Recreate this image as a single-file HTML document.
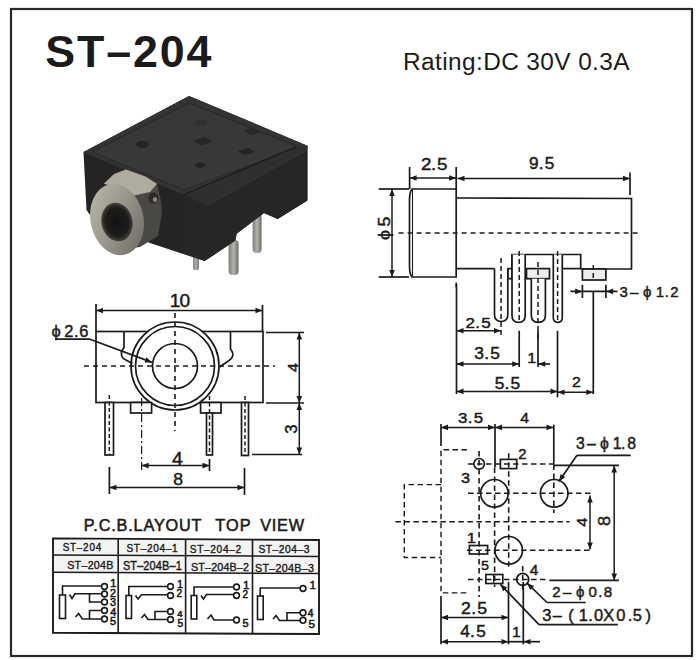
<!DOCTYPE html>
<html><head><meta charset="utf-8"><style>
html,body{margin:0;padding:0;background:#fff;}
svg{display:block;font-family:"Liberation Sans",sans-serif;}
</style></head><body>
<svg width="700" height="660" viewBox="0 0 700 660">
<rect x="11" y="9" width="681" height="647" fill="none" stroke="#2a2727" stroke-width="2.2"/>
<text transform="translate(45.31,66.80) scale(1.0,1)" font-size="44.77" font-weight="bold" letter-spacing="1.85" fill="#1c1a1a">ST–204</text>
<text transform="translate(403.10,70.20) scale(1.0,1)" font-size="24.42" font-weight="normal" letter-spacing="0.39" fill="#1c1a1a">Rating:DC 30V 0.3A</text>

<defs>
<linearGradient id="gRing" x1="0" y1="0" x2="1" y2="1">
<stop offset="0" stop-color="#bdbbad"/><stop offset="0.5" stop-color="#98958a"/><stop offset="1" stop-color="#68665d"/>
</linearGradient>
<linearGradient id="gCyl" x1="0" y1="0" x2="1" y2="1">
<stop offset="0" stop-color="#c9c6ba"/><stop offset="0.5" stop-color="#9a978c"/><stop offset="1" stop-color="#4a4844"/>
</linearGradient>
<linearGradient id="gPin" x1="0" y1="0" x2="1" y2="0">
<stop offset="0" stop-color="#7c7c76"/><stop offset="0.5" stop-color="#b4b4ae"/><stop offset="1" stop-color="#6c6c66"/>
</linearGradient>
<radialGradient id="gHole" cx="0.5" cy="0.5" r="0.5">
<stop offset="0" stop-color="#141211"/><stop offset="0.75" stop-color="#1f1d1b"/><stop offset="1" stop-color="#45433e"/>
</radialGradient>
</defs>
<g>
<rect x="193.1" y="252" width="5.8" height="18.3" rx="2.5" fill="url(#gPin)"/>
<rect x="228.6" y="240" width="10" height="35" rx="4" fill="url(#gPin)"/>
<rect x="252.6" y="212" width="9" height="41" rx="4" fill="url(#gPin)"/>
<polygon points="83.5,152 189,96 307.4,145.7 307.4,200.6 277.7,218.9 264,213.1 236.6,233.7 235.4,240.6 204.6,261.1 150,243 95,222 86.5,210" fill="#252323"/>
<polygon points="83.5,152 189,96 307.4,145.7 184,195" fill="#353333"/>
<polygon points="92,152 189,103 299,147 184,190" fill="#393737"/>
<polyline points="92,152 189,103 299,147 184,190 92,152" fill="none" stroke="#2c2a2a" stroke-width="1.3"/>
<polygon points="184,195 307.4,145.7 307.4,200.6 277.7,218.9 264,213.1 236.6,233.7 235.4,240.6 204.6,261.1 183,253" fill="#272525"/>
<polygon points="184,194 296,146.5 307.4,145.7 307.4,150 208,205 195,200" fill="#302e2e"/>
<polyline points="184,194.5 296,147" fill="none" stroke="#1c1a1a" stroke-width="1.3"/>
<polyline points="207,205.5 307,150" fill="none" stroke="#3a3838" stroke-width="0.8"/>
<ellipse cx="142.4" cy="144.5" rx="6.5" ry="3.5" fill="#242222"/>
<ellipse cx="201" cy="122.5" rx="6" ry="3.2" fill="#302e2e"/>
<polygon points="193,141 204,137 213,141.5 202,145.5" fill="#262424"/>
<polygon points="238,151 248,148 255,152 245,155" fill="#242222"/>
<polygon points="193.5,165 201,162 207,165.5 199.5,168.5" fill="#242222"/>
<polygon points="243,131 252,128 261,132 252,135" fill="#2a2828"/>
<polygon points="118,192 157,183.7 161,201 162,213 158,236 140,247 120,250" fill="#4a4845"/>
<polygon points="103.7,183.7 114,174 126,169.4 145.4,176.5 157,183.7 150,192 132,196 126.7,190.2" fill="#aeac9f"/>
<ellipse cx="153.5" cy="198" rx="5" ry="5.5" fill="#2c2a28"/>
<ellipse cx="155" cy="199.5" rx="2.2" ry="2.6" fill="#8a877c"/>
<ellipse cx="117" cy="219.5" rx="26.5" ry="36" transform="rotate(-12 117 219.5)" fill="url(#gRing)"/>
<ellipse cx="117" cy="222" rx="15.5" ry="19.5" transform="rotate(-12 117 222)" fill="url(#gHole)"/>
</g>
<rect x="96" y="331.5" width="167" height="71.0" fill="none" stroke="#1c1a1a" stroke-width="1.7"/>
<circle cx="175" cy="366" r="44" fill="#fff" stroke="#1c1a1a" stroke-width="1.7"/>
<circle cx="175" cy="366" r="39.5" fill="none" stroke="#1c1a1a" stroke-width="1.7"/>
<circle cx="175" cy="366" r="22.5" fill="none" stroke="#1c1a1a" stroke-width="1.7"/>
<path d="M124,331 L124,347.5 L121.5,351.5 L121.5,355 Q122,358.5 126,360 L132.5,363.5" fill="none" stroke="#1c1a1a" stroke-width="1.7"/>
<path d="M230.5,332 L230.5,349 Q233.5,353 232.7,356 Q232,358.5 229,360.5 L219.5,367" fill="none" stroke="#1c1a1a" stroke-width="1.7"/>
<line x1="84" y1="366" x2="275" y2="366" stroke="#1c1a1a" stroke-width="1.6" stroke-dasharray="5 4"/>
<line x1="175" y1="313" x2="175" y2="431" stroke="#1c1a1a" stroke-width="1.6" stroke-dasharray="5 4"/>
<rect x="105" y="402.5" width="8.5" height="52.5" fill="#fff" stroke="#1c1a1a" stroke-width="1.7"/>
<line x1="109.3" y1="395" x2="109.3" y2="455" stroke="#1c1a1a" stroke-width="1.5" stroke-dasharray="4 2.5"/>
<rect x="130.6" y="402.5" width="21.0" height="10.5" fill="#fff" stroke="#1c1a1a" stroke-width="1.7"/>
<rect x="200.6" y="402.5" width="20.400000000000006" height="10.5" fill="#fff" stroke="#1c1a1a" stroke-width="1.7"/>
<rect x="206.5" y="413" width="6.0" height="42" fill="#fff" stroke="#1c1a1a" stroke-width="1.7"/>
<line x1="209.5" y1="396" x2="209.5" y2="455" stroke="#1c1a1a" stroke-width="1.5" stroke-dasharray="4 2.5"/>
<rect x="241.5" y="402.5" width="7.0" height="53.0" fill="#fff" stroke="#1c1a1a" stroke-width="1.7"/>
<line x1="245" y1="396" x2="245" y2="455" stroke="#1c1a1a" stroke-width="1.5" stroke-dasharray="4 2.5"/>
<line x1="141.6" y1="398" x2="141.6" y2="472" stroke="#1c1a1a" stroke-width="1.2" stroke-dasharray="8 3 2 3"/>
<line x1="96" y1="304" x2="96" y2="331" stroke="#1c1a1a" stroke-width="1.7"/>
<line x1="262.5" y1="305" x2="262.5" y2="331" stroke="#1c1a1a" stroke-width="1.7"/>
<line x1="96" y1="310.5" x2="262.5" y2="310.5" stroke="#1c1a1a" stroke-width="1.5"/>
<polygon points="96.0,310.5 103.0,307.7 103.0,313.3" fill="#1c1a1a"/>
<polygon points="262.5,310.5 255.5,313.3 255.5,307.7" fill="#1c1a1a"/>
<text transform="translate(171.10,0) scale(1.08,1)" x="-1.35 7.83" y="307.10" font-size="17.73" font-weight="normal" fill="#1c1a1a" stroke="#1c1a1a" stroke-width="0.45">10</text>
<text transform="translate(52.10,0) scale(1.0,1)" x="-0.64 12.07 21.80 27.06" y="336.60" font-size="16.47" font-weight="normal" fill="#1c1a1a" stroke="#1c1a1a" stroke-width="0.45">ϕ2.6</text>
<line x1="55" y1="339.2" x2="90" y2="339.2" stroke="#1c1a1a" stroke-width="1.7"/>
<line x1="90" y1="339.2" x2="152" y2="362.4" stroke="#1c1a1a" stroke-width="1.7"/>
<polygon points="152.0,362.4 144.5,362.6 146.4,357.3" fill="#1c1a1a"/>
<line x1="266" y1="332.5" x2="304" y2="332.5" stroke="#1c1a1a" stroke-width="1.7"/>
<line x1="266" y1="403" x2="304" y2="403" stroke="#1c1a1a" stroke-width="1.7"/>
<line x1="252" y1="454.5" x2="302" y2="454.5" stroke="#1c1a1a" stroke-width="1.7"/>
<line x1="299.3" y1="332.5" x2="299.3" y2="403" stroke="#1c1a1a" stroke-width="1.5"/>
<polygon points="299.3,332.5 302.1,339.5 296.5,339.5" fill="#1c1a1a"/>
<polygon points="299.3,403.0 296.5,396.0 302.1,396.0" fill="#1c1a1a"/>
<line x1="299.3" y1="403" x2="299.3" y2="454.5" stroke="#1c1a1a" stroke-width="1.5"/>
<polygon points="299.3,403.0 302.1,410.0 296.5,410.0" fill="#1c1a1a"/>
<polygon points="299.3,454.5 296.5,447.5 302.1,447.5" fill="#1c1a1a"/>
<text transform="translate(297.50,372.19) rotate(-90) scale(1.08,1)" font-size="15.55" font-weight="normal" letter-spacing="0.00" fill="#1c1a1a" stroke="#1c1a1a" stroke-width="0.45">4</text>
<text transform="translate(297.00,433.84) rotate(-90) scale(1.08,1)" font-size="15.61" font-weight="normal" letter-spacing="0.00" fill="#1c1a1a" stroke="#1c1a1a" stroke-width="0.45">3</text>
<line x1="209.5" y1="459" x2="209.5" y2="471" stroke="#1c1a1a" stroke-width="1.7"/>
<line x1="141.6" y1="465.6" x2="209.5" y2="465.6" stroke="#1c1a1a" stroke-width="1.5"/>
<polygon points="141.6,465.6 148.6,462.8 148.6,468.4" fill="#1c1a1a"/>
<polygon points="209.5,465.6 202.5,468.4 202.5,462.8" fill="#1c1a1a"/>
<text transform="translate(172.05,465.00) scale(1.08,1)" font-size="18.02" font-weight="normal" letter-spacing="0.00" fill="#1c1a1a" stroke="#1c1a1a" stroke-width="0.45">4</text>
<line x1="109.4" y1="467" x2="109.4" y2="494" stroke="#1c1a1a" stroke-width="1.7"/>
<line x1="244.5" y1="468" x2="244.5" y2="495" stroke="#1c1a1a" stroke-width="1.7"/>
<line x1="109.4" y1="487.5" x2="244.5" y2="487.5" stroke="#1c1a1a" stroke-width="1.5"/>
<polygon points="109.4,487.5 116.4,484.7 116.4,490.3" fill="#1c1a1a"/>
<polygon points="244.5,487.5 237.5,490.3 237.5,484.7" fill="#1c1a1a"/>
<text transform="translate(173.23,485.20) scale(1.08,1)" font-size="16.33" font-weight="normal" letter-spacing="0.00" fill="#1c1a1a" stroke="#1c1a1a" stroke-width="0.45">8</text>
<path d="M456.2,189 L412,189 Q409.5,192 409.5,200 L409.5,266 Q409.5,274 412,277 L456.2,277 Z" fill="none" stroke="#1c1a1a" stroke-width="1.7"/>
<line x1="412.5" y1="190" x2="412.5" y2="276" stroke="#1c1a1a" stroke-width="1.1"/>
<path d="M456.2,198 L631.5,198.5 L631.5,269 L580.7,269" fill="none" stroke="#1c1a1a" stroke-width="1.7"/>
<path d="M456.2,268.6 L494.5,268.6" fill="none" stroke="#1c1a1a" stroke-width="1.7"/>
<path d="M512,268.6 L512,254.5 L580.7,254.5 L580.7,269" fill="none" stroke="#1c1a1a" stroke-width="1.7"/>
<line x1="562.3" y1="268.6" x2="580.7" y2="268.6" stroke="#1c1a1a" stroke-width="1.7"/>
<rect x="507.8" y="268.6" width="4.199999999999989" height="10.099999999999966" fill="none" stroke="#1c1a1a" stroke-width="1.7"/>
<rect x="526.5" y="268.6" width="23.0" height="10.099999999999966" fill="#ededed" stroke="#1c1a1a" stroke-width="1.7"/>
<rect x="582.4" y="269" width="23.5" height="11" fill="#ededed" stroke="#1c1a1a" stroke-width="1.7"/>
<path d="M494.5,268.6 L494.5,314.85 Q494.5,321.5 501.15,321.5 Q507.8,321.5 507.8,314.85 L507.8,268.6" fill="#fff" stroke="#1c1a1a" stroke-width="1.7"/>
<path d="M512,254.5 L512,315.7 Q512,322.3 518.6,322.3 Q525.2,322.3 525.2,315.7 L525.2,254.5" fill="#fff" stroke="#1c1a1a" stroke-width="1.7"/>
<path d="M531.3,278.7 L531.3,315.25 Q531.3,322.3 538.3499999999999,322.3 Q545.4,322.3 545.4,315.25 L545.4,278.7" fill="#fff" stroke="#1c1a1a" stroke-width="1.7"/>
<path d="M553.3,254.5 L553.3,317.8 Q553.3,322.3 557.8,322.3 Q562.3,322.3 562.3,317.8 L562.3,254.5" fill="#fff" stroke="#1c1a1a" stroke-width="1.7"/>
<line x1="501" y1="258" x2="501" y2="336" stroke="#1c1a1a" stroke-width="1.5" stroke-dasharray="5 3"/>
<line x1="519.2" y1="251" x2="519.2" y2="322" stroke="#1c1a1a" stroke-width="1.5" stroke-dasharray="5 3"/>
<line x1="538" y1="262" x2="538" y2="340" stroke="#1c1a1a" stroke-width="1.5" stroke-dasharray="5 3"/>
<line x1="557.6" y1="251" x2="557.6" y2="322" stroke="#1c1a1a" stroke-width="1.5" stroke-dasharray="5 3"/>
<line x1="593.3" y1="265" x2="593.3" y2="281" stroke="#1c1a1a" stroke-width="1.5" stroke-dasharray="5 3"/>
<line x1="398.6" y1="233" x2="638.5" y2="233" stroke="#1c1a1a" stroke-width="1.6" stroke-dasharray="5 4"/>
<line x1="409.6" y1="167" x2="409.6" y2="189" stroke="#1c1a1a" stroke-width="1.7"/>
<line x1="456.2" y1="167" x2="456.2" y2="190" stroke="#1c1a1a" stroke-width="1.7"/>
<line x1="409.6" y1="178" x2="456.2" y2="178" stroke="#1c1a1a" stroke-width="1.5"/>
<polygon points="409.6,178.0 416.6,175.2 416.6,180.8" fill="#1c1a1a"/>
<polygon points="456.2,178.0 449.2,180.8 449.2,175.2" fill="#1c1a1a"/>
<text transform="translate(421.90,0) scale(1.1,1)" x="-0.86 8.17 13.67" y="169.80" font-size="17.04" font-weight="normal" fill="#1c1a1a" stroke="#1c1a1a" stroke-width="0.45">2.5</text>
<line x1="630" y1="172.5" x2="630" y2="195" stroke="#1c1a1a" stroke-width="1.7"/>
<line x1="457.5" y1="178.5" x2="630" y2="178.5" stroke="#1c1a1a" stroke-width="1.5"/>
<polygon points="457.5,178.5 464.5,175.7 464.5,181.3" fill="#1c1a1a"/>
<polygon points="630.0,178.5 623.0,181.3 623.0,175.7" fill="#1c1a1a"/>
<text transform="translate(529.70,0) scale(1.1,1)" x="-0.73 8.35 13.79" y="169.20" font-size="15.61" font-weight="normal" fill="#1c1a1a" stroke="#1c1a1a" stroke-width="0.45">9.5</text>
<line x1="378.8" y1="189" x2="409" y2="189" stroke="#1c1a1a" stroke-width="1.7"/>
<line x1="378.8" y1="277" x2="409" y2="277" stroke="#1c1a1a" stroke-width="1.7"/>
<line x1="392" y1="189" x2="392" y2="277" stroke="#1c1a1a" stroke-width="1.5"/>
<polygon points="392.0,189.0 394.8,196.0 389.2,196.0" fill="#1c1a1a"/>
<polygon points="392.0,277.0 389.2,270.0 394.8,270.0" fill="#1c1a1a"/>
<text transform="translate(389.70,240.10) rotate(-90) scale(1.08,1)" font-size="16.57" font-weight="normal" letter-spacing="3.22" fill="#1c1a1a" stroke="#1c1a1a" stroke-width="0.45">ϕ5</text>
<line x1="456.2" y1="282.4" x2="456.2" y2="290" stroke="#1c1a1a" stroke-width="1.5" stroke-dasharray="5 3"/>
<line x1="456.5" y1="284" x2="456.5" y2="394" stroke="#1c1a1a" stroke-width="1.7"/>
<line x1="456.5" y1="330.8" x2="501" y2="330.8" stroke="#1c1a1a" stroke-width="1.5"/>
<polygon points="456.5,330.8 463.5,328.0 463.5,333.6" fill="#1c1a1a"/>
<polygon points="501.0,330.8 494.0,333.6 494.0,328.0" fill="#1c1a1a"/>
<text transform="translate(466.30,0) scale(1.1,1)" x="-0.78 8.20 13.56" y="328.30" font-size="15.47" font-weight="normal" fill="#1c1a1a" stroke="#1c1a1a" stroke-width="0.45">2.5</text>
<line x1="519.2" y1="330.8" x2="519.2" y2="367" stroke="#1c1a1a" stroke-width="1.7"/>
<line x1="456.5" y1="364" x2="519.2" y2="364" stroke="#1c1a1a" stroke-width="1.5"/>
<polygon points="456.5,364.0 463.5,361.2 463.5,366.8" fill="#1c1a1a"/>
<polygon points="519.2,364.0 512.2,366.8 512.2,361.2" fill="#1c1a1a"/>
<text transform="translate(475.00,0) scale(1.1,1)" x="-0.60 8.45 13.96" y="358.80" font-size="15.75" font-weight="normal" fill="#1c1a1a" stroke="#1c1a1a" stroke-width="0.45">3.5</text>
<line x1="538" y1="330.8" x2="538" y2="367" stroke="#1c1a1a" stroke-width="1.7"/>
<line x1="538" y1="364" x2="550" y2="364" stroke="#1c1a1a" stroke-width="1.7"/>
<polygon points="538.3,364.0 545.3,361.2 545.3,366.8" fill="#1c1a1a"/>
<text transform="translate(527.17,363.40) scale(1.08,1)" font-size="14.97" font-weight="normal" letter-spacing="0.00" fill="#1c1a1a" stroke="#1c1a1a" stroke-width="0.45">1</text>
<line x1="557.5" y1="330.8" x2="557.5" y2="397.4" stroke="#1c1a1a" stroke-width="1.7"/>
<line x1="456.5" y1="391.4" x2="557.5" y2="391.4" stroke="#1c1a1a" stroke-width="1.5"/>
<polygon points="456.5,391.4 463.5,388.6 463.5,394.2" fill="#1c1a1a"/>
<polygon points="557.5,391.4 550.5,394.2 550.5,388.6" fill="#1c1a1a"/>
<text transform="translate(495.50,0) scale(1.1,1)" x="-0.63 8.24 13.66" y="388.70" font-size="15.84" font-weight="normal" fill="#1c1a1a" stroke="#1c1a1a" stroke-width="0.45">5.5</text>
<line x1="557.5" y1="392.2" x2="593.3" y2="392.2" stroke="#1c1a1a" stroke-width="1.5"/>
<polygon points="557.5,392.2 564.5,389.4 564.5,395.0" fill="#1c1a1a"/>
<polygon points="593.3,392.2 586.3,395.0 586.3,389.4" fill="#1c1a1a"/>
<text transform="translate(571.90,387.30) scale(1.08,1)" font-size="14.75" font-weight="normal" letter-spacing="0.00" fill="#1c1a1a" stroke="#1c1a1a" stroke-width="0.45">2</text>
<line x1="593.3" y1="291.4" x2="593.3" y2="394" stroke="#1c1a1a" stroke-width="1.7"/>
<line x1="582.4" y1="284.8" x2="582.4" y2="298" stroke="#1c1a1a" stroke-width="1.7"/>
<line x1="605.9" y1="284.8" x2="605.9" y2="298" stroke="#1c1a1a" stroke-width="1.7"/>
<line x1="570.3" y1="291.4" x2="617.5" y2="291.4" stroke="#1c1a1a" stroke-width="1.7"/>
<polygon points="582.2,291.4 575.2,294.2 575.2,288.6" fill="#1c1a1a"/>
<polygon points="606.1,291.4 613.1,288.6 613.1,294.2" fill="#1c1a1a"/>
<text transform="translate(620.00,0) scale(1.0,1)" x="-0.57 10.00 22.91 35.85 44.63 50.24" y="297.00" font-size="15.04" font-weight="normal" fill="#1c1a1a" stroke="#1c1a1a" stroke-width="0.45">3–ϕ1.2</text>
<line x1="441" y1="424" x2="441" y2="446" stroke="#1c1a1a" stroke-width="1.7"/>
<line x1="495" y1="424" x2="495" y2="467.5" stroke="#1c1a1a" stroke-width="1.7"/>
<line x1="441" y1="427.4" x2="495" y2="427.4" stroke="#1c1a1a" stroke-width="1.5"/>
<polygon points="441.0,427.4 448.0,424.6 448.0,430.2" fill="#1c1a1a"/>
<polygon points="495.0,427.4 488.0,430.2 488.0,424.6" fill="#1c1a1a"/>
<text transform="translate(458.60,0) scale(1.1,1)" x="-0.58 8.33 13.74" y="423.30" font-size="15.32" font-weight="normal" fill="#1c1a1a" stroke="#1c1a1a" stroke-width="0.45">3.5</text>
<line x1="553.8" y1="424.6" x2="553.8" y2="464.5" stroke="#1c1a1a" stroke-width="1.7"/>
<line x1="495" y1="427.4" x2="553.5" y2="427.4" stroke="#1c1a1a" stroke-width="1.5"/>
<polygon points="495.0,427.4 502.0,424.6 502.0,430.2" fill="#1c1a1a"/>
<polygon points="553.5,427.4 546.5,430.2 546.5,424.6" fill="#1c1a1a"/>
<text transform="translate(520.34,423.00) scale(1.08,1)" font-size="14.54" font-weight="normal" letter-spacing="0.00" fill="#1c1a1a" stroke="#1c1a1a" stroke-width="0.45">4</text>
<path d="M467,449.7 L441,449.7 L441,592.9 L468,592.9" fill="none" stroke="#1c1a1a" stroke-width="1.4" stroke-dasharray="5.5 3.5"/>
<path d="M441,484.6 L404.3,484.6 L404.3,557.5 L441,557.5" fill="none" stroke="#1c1a1a" stroke-width="1.4" stroke-dasharray="5.5 3.5"/>
<line x1="468" y1="464" x2="553.5" y2="464" stroke="#1c1a1a" stroke-width="1.6" stroke-dasharray="5.5 3.5"/>
<line x1="553.5" y1="465.4" x2="619" y2="465.4" stroke="#1c1a1a" stroke-width="1.7"/>
<line x1="468" y1="493.3" x2="592" y2="493.3" stroke="#1c1a1a" stroke-width="1.6" stroke-dasharray="5.5 3.5"/>
<line x1="395.4" y1="521.7" x2="569.6" y2="521.7" stroke="#1c1a1a" stroke-width="1.6" stroke-dasharray="5.5 3.5"/>
<line x1="467" y1="550.3" x2="591" y2="550.3" stroke="#1c1a1a" stroke-width="1.6" stroke-dasharray="5.5 3.5"/>
<line x1="468" y1="579.5" x2="548" y2="579.5" stroke="#1c1a1a" stroke-width="1.6" stroke-dasharray="5.5 3.5"/>
<line x1="549.3" y1="580.4" x2="619" y2="580.4" stroke="#1c1a1a" stroke-width="1.7"/>
<line x1="479.1" y1="451" x2="479.1" y2="597" stroke="#1c1a1a" stroke-width="1.6" stroke-dasharray="5.5 3.5"/>
<line x1="494.6" y1="467.5" x2="494.6" y2="587" stroke="#1c1a1a" stroke-width="1.6" stroke-dasharray="5.5 3.5"/>
<line x1="508.7" y1="453.3" x2="508.7" y2="570" stroke="#1c1a1a" stroke-width="1.6" stroke-dasharray="5.5 3.5"/>
<line x1="553.8" y1="464.5" x2="553.8" y2="513" stroke="#1c1a1a" stroke-width="1.6" stroke-dasharray="5.5 3.5"/>
<line x1="522.7" y1="566" x2="522.7" y2="590" stroke="#1c1a1a" stroke-width="1.6" stroke-dasharray="5.5 3.5"/>
<circle cx="479.1" cy="463.8" r="5.3" fill="none" stroke="#1c1a1a" stroke-width="1.7"/>
<rect x="500.4" y="459.4" width="16.300000000000068" height="9.200000000000045" fill="none" stroke="#1c1a1a" stroke-width="1.7"/>
<circle cx="494.4" cy="493.3" r="13.8" fill="none" stroke="#1c1a1a" stroke-width="1.7"/>
<circle cx="554.2" cy="493.3" r="13.8" fill="none" stroke="#1c1a1a" stroke-width="1.7"/>
<circle cx="508.7" cy="550.3" r="13.8" fill="none" stroke="#1c1a1a" stroke-width="1.7"/>
<rect x="469.4" y="545.5" width="18.200000000000045" height="8.5" fill="none" stroke="#1c1a1a" stroke-width="1.7"/>
<rect x="485.9" y="574.5" width="16.900000000000034" height="9.0" fill="none" stroke="#1c1a1a" stroke-width="1.7"/>
<line x1="493.6" y1="574.5" x2="493.6" y2="583.5" stroke="#1c1a1a" stroke-width="1.1"/>
<circle cx="522.7" cy="579.4" r="6" fill="none" stroke="#1c1a1a" stroke-width="1.7"/>
<text transform="translate(518.25,459.00) scale(1.08,1)" font-size="13.89" font-weight="normal" letter-spacing="0.00" fill="#1c1a1a" stroke="#1c1a1a" stroke-width="0.45">2</text>
<text transform="translate(460.98,483.20) scale(1.08,1)" font-size="15.04" font-weight="normal" letter-spacing="0.00" fill="#1c1a1a" stroke="#1c1a1a" stroke-width="0.45">3</text>
<text transform="translate(466.72,542.70) scale(1.08,1)" font-size="15.55" font-weight="normal" letter-spacing="0.00" fill="#1c1a1a" stroke="#1c1a1a" stroke-width="0.45">1</text>
<text transform="translate(480.93,570.30) scale(1.08,1)" font-size="13.23" font-weight="normal" letter-spacing="0.00" fill="#1c1a1a" stroke="#1c1a1a" stroke-width="0.45">5</text>
<text transform="translate(529.65,574.60) scale(1.08,1)" font-size="14.24" font-weight="normal" letter-spacing="0.00" fill="#1c1a1a" stroke="#1c1a1a" stroke-width="0.45">4</text>
<line x1="590" y1="495.4" x2="590" y2="549.6" stroke="#1c1a1a" stroke-width="1.5"/>
<polygon points="590.0,495.4 592.8,502.4 587.2,502.4" fill="#1c1a1a"/>
<polygon points="590.0,549.6 587.2,542.6 592.8,542.6" fill="#1c1a1a"/>
<line x1="614.2" y1="465.4" x2="614.2" y2="580.4" stroke="#1c1a1a" stroke-width="1.5"/>
<polygon points="614.2,465.4 617.0,472.4 611.4,472.4" fill="#1c1a1a"/>
<polygon points="614.2,580.4 611.4,573.4 617.0,573.4" fill="#1c1a1a"/>
<text transform="translate(587.40,526.77) rotate(-90) scale(1.08,1)" font-size="15.12" font-weight="normal" letter-spacing="0.00" fill="#1c1a1a" stroke="#1c1a1a" stroke-width="0.45">4</text>
<text transform="translate(610.40,526.09) rotate(-90) scale(1.08,1)" font-size="16.90" font-weight="normal" letter-spacing="0.00" fill="#1c1a1a" stroke="#1c1a1a" stroke-width="0.45">8</text>
<text transform="translate(576.50,0) scale(1.0,1)" x="-0.60 10.50 23.38 36.30 44.56 50.82" y="448.50" font-size="15.75" font-weight="normal" fill="#1c1a1a" stroke="#1c1a1a" stroke-width="0.45">3–ϕ1.8</text>
<line x1="577" y1="455.3" x2="630.7" y2="455.3" stroke="#1c1a1a" stroke-width="1.7"/>
<line x1="577" y1="455.3" x2="558.9" y2="481.4" stroke="#1c1a1a" stroke-width="1.7"/>
<polygon points="558.9,481.4 560.6,474.1 565.2,477.2" fill="#1c1a1a"/>
<text transform="translate(553.00,0) scale(1.0,1)" x="-0.76 10.00 22.91 35.41 45.13 50.85" y="597.00" font-size="15.04" font-weight="normal" fill="#1c1a1a" stroke="#1c1a1a" stroke-width="0.45">2–ϕ0.8</text>
<line x1="547" y1="602.5" x2="585.7" y2="602.5" stroke="#1c1a1a" stroke-width="1.7"/>
<line x1="547" y1="602.5" x2="527.1" y2="583.2" stroke="#1c1a1a" stroke-width="1.7"/>
<polygon points="527.1,583.2 534.1,586.1 530.2,590.1" fill="#1c1a1a"/>
<text transform="translate(542.90,0) scale(1.0,1)" x="-0.63 9.90 25.28 35.75 45.30 51.16 60.43 73.36 84.80 89.74 102.60" y="621.20" font-size="16.47" font-weight="normal" fill="#1c1a1a" stroke="#1c1a1a" stroke-width="0.45">3–(1.0X0.5)</text>
<line x1="539" y1="624.6" x2="617.9" y2="624.6" stroke="#1c1a1a" stroke-width="1.7"/>
<line x1="539" y1="624.6" x2="500.3" y2="584.3" stroke="#1c1a1a" stroke-width="1.7"/>
<polygon points="500.3,584.3 507.2,587.4 503.1,591.3" fill="#1c1a1a"/>
<line x1="441" y1="596" x2="441" y2="644.3" stroke="#1c1a1a" stroke-width="1.7"/>
<line x1="508.5" y1="582" x2="508.5" y2="644.3" stroke="#1c1a1a" stroke-width="1.7"/>
<line x1="523.3" y1="582" x2="523.3" y2="644.3" stroke="#1c1a1a" stroke-width="1.7"/>
<line x1="441" y1="617.5" x2="508.5" y2="617.5" stroke="#1c1a1a" stroke-width="1.5"/>
<polygon points="441.0,617.5 448.0,614.7 448.0,620.3" fill="#1c1a1a"/>
<polygon points="508.5,617.5 501.5,620.3 501.5,614.7" fill="#1c1a1a"/>
<text transform="translate(461.80,0) scale(1.1,1)" x="-0.81 8.51 14.07" y="614.50" font-size="16.04" font-weight="normal" fill="#1c1a1a" stroke="#1c1a1a" stroke-width="0.45">2.5</text>
<line x1="441" y1="641.7" x2="508.5" y2="641.7" stroke="#1c1a1a" stroke-width="1.5"/>
<polygon points="441.0,641.7 448.0,638.9 448.0,644.5" fill="#1c1a1a"/>
<polygon points="508.5,641.7 501.5,644.5 501.5,638.9" fill="#1c1a1a"/>
<text transform="translate(460.70,0) scale(1.1,1)" x="-0.36 8.54 14.09" y="637.00" font-size="15.70" font-weight="normal" fill="#1c1a1a" stroke="#1c1a1a" stroke-width="0.45">4.5</text>
<line x1="508.5" y1="641.7" x2="523.3" y2="641.7" stroke="#1c1a1a" stroke-width="1.7"/>
<line x1="523.3" y1="641.7" x2="540" y2="641.7" stroke="#1c1a1a" stroke-width="1.7"/>
<polygon points="523.5,641.7 530.5,638.9 530.5,644.5" fill="#1c1a1a"/>
<text transform="translate(512.00,637.00) scale(1.08,1)" font-size="14.54" font-weight="normal" letter-spacing="0.00" fill="#1c1a1a" stroke="#1c1a1a" stroke-width="0.45">1</text>
<text transform="translate(83.76,530.90) scale(1.0,1)" font-size="16.28" font-weight="normal" letter-spacing="0.82" fill="#1c1a1a" stroke="#1c1a1a" stroke-width="0.55">P.C.B.LAYOUT</text>
<text transform="translate(215.33,530.90) scale(1.0,1)" font-size="16.28" font-weight="normal" letter-spacing="1.03" fill="#1c1a1a" stroke="#1c1a1a" stroke-width="0.55">TOP</text>
<text transform="translate(260.23,530.90) scale(1.0,1)" font-size="16.28" font-weight="normal" letter-spacing="0.74" fill="#1c1a1a" stroke="#1c1a1a" stroke-width="0.55">VIEW</text>
<rect x="53" y="539" width="266" height="34" fill="#f3f3f3"/>
<polygon points="53,538.4 319,540 319,634 53,632.8" fill="none" stroke="#1c1a1a" stroke-width="1.9"/>
<line x1="53" y1="555" x2="319" y2="556.4" stroke="#1c1a1a" stroke-width="1.5"/>
<line x1="53" y1="572.3" x2="319" y2="573.6" stroke="#1c1a1a" stroke-width="1.5"/>
<line x1="118.2" y1="538.6" x2="118.2" y2="633.2" stroke="#1c1a1a" stroke-width="1.6"/>
<line x1="185.6" y1="539" x2="185.6" y2="633.5" stroke="#1c1a1a" stroke-width="1.6"/>
<line x1="252.5" y1="539.4" x2="252.5" y2="633.7" stroke="#1c1a1a" stroke-width="1.6"/>
<text transform="translate(62.65,551.00) scale(0.92,1)" font-size="10.76" font-weight="normal" letter-spacing="0.84" fill="#1c1a1a" stroke="#1c1a1a" stroke-width="0.4">ST–204</text>
<text transform="translate(67.21,569.30) scale(0.92,1)" font-size="11.63" font-weight="normal" letter-spacing="0.30" fill="#1c1a1a" stroke="#1c1a1a" stroke-width="0.4">ST–204B</text>
<text transform="translate(126.44,551.60) scale(0.92,1)" font-size="11.05" font-weight="normal" letter-spacing="0.66" fill="#1c1a1a" stroke="#1c1a1a" stroke-width="0.4">ST–204–1</text>
<text transform="translate(122.90,570.20) scale(0.92,1)" font-size="11.92" font-weight="normal" letter-spacing="0.14" fill="#1c1a1a" stroke="#1c1a1a" stroke-width="0.4">ST–204B–1</text>
<text transform="translate(189.84,552.60) scale(0.92,1)" font-size="11.05" font-weight="normal" letter-spacing="0.68" fill="#1c1a1a" stroke="#1c1a1a" stroke-width="0.4">ST–204–2</text>
<text transform="translate(190.91,571.00) scale(0.92,1)" font-size="11.63" font-weight="normal" letter-spacing="0.23" fill="#1c1a1a" stroke="#1c1a1a" stroke-width="0.4">ST–204B–2</text>
<text transform="translate(258.43,553.20) scale(0.92,1)" font-size="11.19" font-weight="normal" letter-spacing="0.56" fill="#1c1a1a" stroke="#1c1a1a" stroke-width="0.4">ST–204–3</text>
<text transform="translate(254.91,571.50) scale(0.92,1)" font-size="11.63" font-weight="normal" letter-spacing="0.37" fill="#1c1a1a" stroke="#1c1a1a" stroke-width="0.4">ST–204B–3</text>
<rect x="59.5" y="595" width="6.0" height="23.5" fill="none" stroke="#1c1a1a" stroke-width="1.6"/>
<path d="M62.5,595 L62.5,586 L102,586" fill="none" stroke="#1c1a1a" stroke-width="1.6"/>
<circle cx="104.5" cy="586.5" r="2.9" fill="none" stroke="#1c1a1a" stroke-width="1.6"/>
<circle cx="104.5" cy="594" r="2.9" fill="none" stroke="#1c1a1a" stroke-width="1.6"/>
<circle cx="104.5" cy="602" r="2.9" fill="none" stroke="#1c1a1a" stroke-width="1.6"/>
<circle cx="104.5" cy="610.5" r="2.9" fill="none" stroke="#1c1a1a" stroke-width="1.6"/>
<circle cx="104.5" cy="619" r="2.9" fill="none" stroke="#1c1a1a" stroke-width="1.6"/>
<path d="M69.5,594.5 L72,598.5 L75,593.8 L102,593.8" fill="none" stroke="#1c1a1a" stroke-width="1.6"/>
<path d="M89.5,593.8 L89.5,602 L102,602" fill="none" stroke="#1c1a1a" stroke-width="1.6"/>
<path d="M102,610.5 L89.5,610.5 L89.5,619" fill="none" stroke="#1c1a1a" stroke-width="1.6"/>
<path d="M75.5,617 L78.5,613.5 L82.5,619 L102,619" fill="none" stroke="#1c1a1a" stroke-width="1.6"/>
<text transform="translate(110.17,586.50) scale(1.0,1)" font-size="10.90" font-weight="normal" letter-spacing="0.00" fill="#1c1a1a" stroke="#1c1a1a" stroke-width="0.55">1</text>
<text transform="translate(109.96,596.50) scale(1.0,1)" font-size="10.74" font-weight="normal" letter-spacing="0.00" fill="#1c1a1a" stroke="#1c1a1a" stroke-width="0.55">2</text>
<text transform="translate(110.09,605.50) scale(1.0,1)" font-size="10.74" font-weight="normal" letter-spacing="0.00" fill="#1c1a1a" stroke="#1c1a1a" stroke-width="0.55">3</text>
<text transform="translate(110.25,615.50) scale(1.0,1)" font-size="10.90" font-weight="normal" letter-spacing="0.00" fill="#1c1a1a" stroke="#1c1a1a" stroke-width="0.55">4</text>
<text transform="translate(110.06,625.00) scale(1.0,1)" font-size="10.90" font-weight="normal" letter-spacing="0.00" fill="#1c1a1a" stroke="#1c1a1a" stroke-width="0.55">5</text>
<rect x="126" y="595.5" width="5.5" height="23.0" fill="none" stroke="#1c1a1a" stroke-width="1.6"/>
<path d="M128.8,595.5 L128.8,586.5 L168,586.5" fill="none" stroke="#1c1a1a" stroke-width="1.6"/>
<circle cx="170.5" cy="586.5" r="2.9" fill="none" stroke="#1c1a1a" stroke-width="1.6"/>
<circle cx="170.5" cy="595.5" r="2.9" fill="none" stroke="#1c1a1a" stroke-width="1.6"/>
<circle cx="170.5" cy="611.5" r="2.9" fill="none" stroke="#1c1a1a" stroke-width="1.6"/>
<circle cx="170.5" cy="619.5" r="2.9" fill="none" stroke="#1c1a1a" stroke-width="1.6"/>
<path d="M135.5,595.5 L138,599 L141.5,594.8 L168,594.8" fill="none" stroke="#1c1a1a" stroke-width="1.6"/>
<path d="M141.5,618 L144.5,614.5 L148,619.5 L168,619.5" fill="none" stroke="#1c1a1a" stroke-width="1.6"/>
<path d="M155,619.5 L155,611.5 L168,611.5" fill="none" stroke="#1c1a1a" stroke-width="1.6"/>
<text transform="translate(177.22,587.50) scale(1.0,1)" font-size="10.17" font-weight="normal" letter-spacing="0.00" fill="#1c1a1a" stroke="#1c1a1a" stroke-width="0.55">1</text>
<text transform="translate(176.50,597.00) scale(1.0,1)" font-size="10.03" font-weight="normal" letter-spacing="0.00" fill="#1c1a1a" stroke="#1c1a1a" stroke-width="0.55">2</text>
<text transform="translate(177.28,617.00) scale(1.0,1)" font-size="9.45" font-weight="normal" letter-spacing="0.00" fill="#1c1a1a" stroke="#1c1a1a" stroke-width="0.55">4</text>
<text transform="translate(177.59,626.50) scale(1.0,1)" font-size="10.17" font-weight="normal" letter-spacing="0.00" fill="#1c1a1a" stroke="#1c1a1a" stroke-width="0.55">5</text>
<rect x="191.2" y="595.5" width="5.600000000000023" height="23.5" fill="none" stroke="#1c1a1a" stroke-width="1.6"/>
<path d="M194,595.5 L194,587 L234,587" fill="none" stroke="#1c1a1a" stroke-width="1.6"/>
<circle cx="236.5" cy="587" r="2.9" fill="none" stroke="#1c1a1a" stroke-width="1.6"/>
<circle cx="236.5" cy="595.5" r="2.9" fill="none" stroke="#1c1a1a" stroke-width="1.6"/>
<circle cx="236.5" cy="620" r="2.9" fill="none" stroke="#1c1a1a" stroke-width="1.6"/>
<path d="M201,595.5 L203.5,599 L206.5,594.5 L234,594.5" fill="none" stroke="#1c1a1a" stroke-width="1.6"/>
<path d="M207.5,619 L211,615 L214,620 L234,620" fill="none" stroke="#1c1a1a" stroke-width="1.6"/>
<text transform="translate(243.11,588.50) scale(1.0,1)" font-size="11.63" font-weight="normal" letter-spacing="0.00" fill="#1c1a1a" stroke="#1c1a1a" stroke-width="0.55">1</text>
<text transform="translate(242.50,597.50) scale(1.0,1)" font-size="10.03" font-weight="normal" letter-spacing="0.00" fill="#1c1a1a" stroke="#1c1a1a" stroke-width="0.55">2</text>
<text transform="translate(242.56,627.00) scale(1.0,1)" font-size="10.90" font-weight="normal" letter-spacing="0.00" fill="#1c1a1a" stroke="#1c1a1a" stroke-width="0.55">5</text>
<rect x="257.5" y="596" width="5.699999999999989" height="23.5" fill="none" stroke="#1c1a1a" stroke-width="1.6"/>
<path d="M260.2,596 L260.2,588 L300.5,588" fill="none" stroke="#1c1a1a" stroke-width="1.6"/>
<circle cx="303" cy="588.5" r="2.9" fill="none" stroke="#1c1a1a" stroke-width="1.6"/>
<circle cx="303" cy="612.8" r="2.9" fill="none" stroke="#1c1a1a" stroke-width="1.6"/>
<circle cx="303" cy="620.3" r="2.9" fill="none" stroke="#1c1a1a" stroke-width="1.6"/>
<path d="M273,619 L276,615.5 L279.5,620.5 L300.5,620.5" fill="none" stroke="#1c1a1a" stroke-width="1.6"/>
<path d="M287,620.5 L287,612.8 L300.5,612.8" fill="none" stroke="#1c1a1a" stroke-width="1.6"/>
<text transform="translate(309.67,588.50) scale(1.0,1)" font-size="10.90" font-weight="normal" letter-spacing="0.00" fill="#1c1a1a" stroke="#1c1a1a" stroke-width="0.55">1</text>
<text transform="translate(307.77,616.50) scale(1.0,1)" font-size="10.17" font-weight="normal" letter-spacing="0.00" fill="#1c1a1a" stroke="#1c1a1a" stroke-width="0.55">4</text>
<text transform="translate(308.53,627.50) scale(1.0,1)" font-size="11.63" font-weight="normal" letter-spacing="0.00" fill="#1c1a1a" stroke="#1c1a1a" stroke-width="0.55">5</text>
</svg>
</body></html>
